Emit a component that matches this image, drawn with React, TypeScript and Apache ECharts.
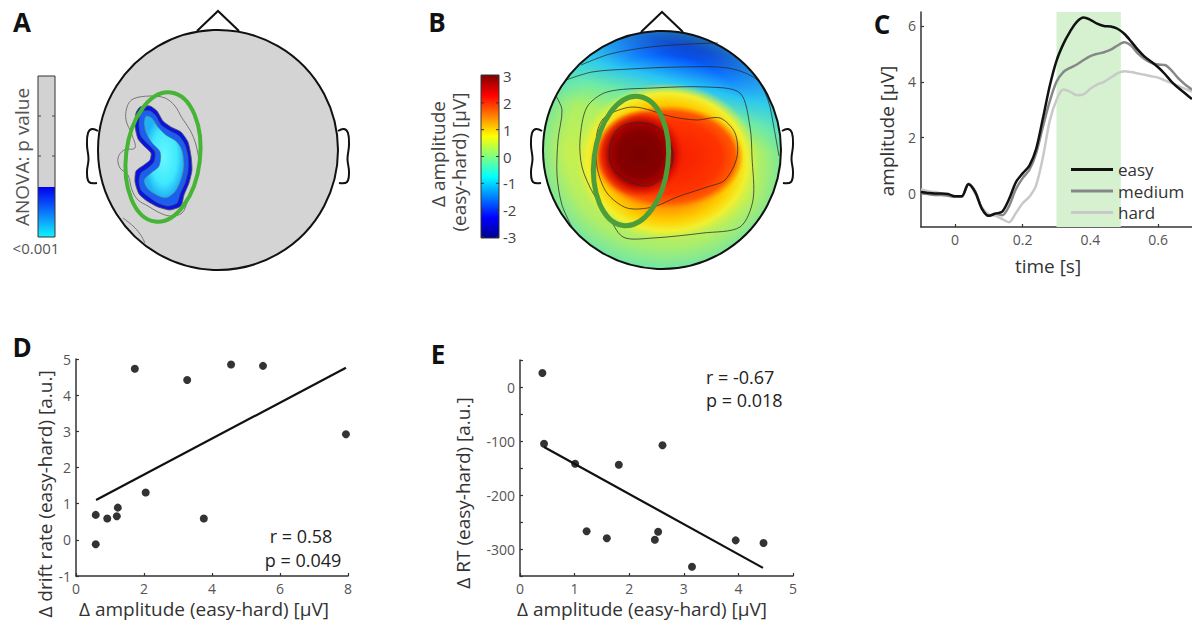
import React, { useEffect, useRef } from 'react';
import * as echarts from 'echarts';

const FONT = '"Open Sans", "Noto Sans", sans-serif';

// ---------- Panel C: ERP time courses ----------
const timeS = [-0.1, -0.08, -0.06, -0.04, -0.02, 0, 0.02, 0.04, 0.06, 0.08, 0.1, 0.12, 0.14, 0.16, 0.18, 0.2, 0.22, 0.24, 0.26, 0.28, 0.3, 0.32, 0.34, 0.36, 0.38, 0.4, 0.42, 0.44, 0.46, 0.48, 0.5, 0.52, 0.54, 0.56, 0.58, 0.6, 0.62, 0.64, 0.66, 0.68, 0.7];
const easyUV = [0.05, 0.02, 0.0, 0.0, -0.02, -0.1, -0.1, 0.33, 0.05, -0.55, -0.8, -0.72, -0.65, -0.2, 0.4, 0.72, 1.0, 1.6, 2.7, 3.85, 4.75, 5.35, 5.8, 6.15, 6.3, 6.22, 6.08, 6.0, 5.98, 5.9, 5.72, 5.45, 5.15, 4.9, 4.72, 4.52, 4.28, 4.0, 3.78, 3.58, 3.38];
const mediumUV = [0.0, -0.02, -0.05, -0.05, -0.08, -0.12, -0.12, 0.35, 0.08, -0.55, -0.8, -0.72, -0.78, -0.45, 0.15, 0.55, 0.85, 1.45, 2.4, 3.3, 4.0, 4.35, 4.5, 4.62, 4.78, 4.92, 5.0, 5.06, 5.15, 5.3, 5.42, 5.3, 5.02, 4.82, 4.68, 4.62, 4.6, 4.4, 4.12, 3.9, 3.72];
const hardUV = [0.15, 0.08, 0.05, 0.0, -0.05, -0.1, -0.12, 0.33, 0.0, -0.5, -0.75, -0.8, -0.92, -1.03, -0.7, -0.35, -0.12, 0.3, 1.3, 2.6, 3.35, 3.72, 3.65, 3.52, 3.55, 3.75, 3.9, 4.0, 4.15, 4.3, 4.38, 4.35, 4.3, 4.25, 4.2, 4.15, 4.05, 3.95, 3.85, 3.75, 3.65];
const conditionNames = ['easy', 'medium', 'hard'];
const windowS = [0.3, 0.49];
const cXTicks = [0, 0.2, 0.4, 0.6];
const cYTicks = [0, 2, 4, 6];

// ---------- Panel D: drift rate vs amplitude ----------
const dAmp = [0.58, 0.58, 0.92, 1.2, 1.23, 1.73, 2.05, 3.27, 3.76, 4.56, 5.5, 7.94];
const dDrift = [0.69, -0.12, 0.59, 0.65, 0.89, 4.73, 1.31, 4.42, 0.59, 4.85, 4.81, 2.92];
const dFitX = [0.59, 7.94];
const dFitY = [1.1, 4.76];
const dStats = ['r = 0.58', 'p = 0.049'];

// ---------- Panel E: RT vs amplitude ----------
const eAmp = [0.41, 0.44, 1.01, 1.22, 1.59, 1.81, 2.47, 2.53, 2.61, 3.15, 3.95, 4.46];
const eRT = [26, -105, -142, -267, -280, -144, -283, -268, -108, -333, -284, -289];
const eFitX = [0.44, 4.45];
const eFitY = [-111, -335];
const eStats = ['r = -0.67', 'p = 0.018'];
const eYLabels = [0, -100, -200, -300];
const eYTicks = [50, 0, -50, -100, -150, -200, -250, -300, -350];

// ---------- Colorbars ----------
const bBarTicks = [3, 2, 1, 0, -1, -2, -3];
const aBarLabel = '<0.001';

function txt(text: string, x: number, y: number, o: any = {}) {
  const align = o.align || 'center';
  return {
    type: 'text',
    x,
    y,
    rotation: o.rot || 0,
    z: 20,
    style: {
      text,
      fontSize: o.size || 17,
      fontFamily: FONT,
      fontWeight: o.weight || 'normal',
      fill: o.fill || '#333',
      textAlign: align,
      align,
      textVerticalAlign: 'middle',
      verticalAlign: 'middle',
    },
  };
}

function headOutline(cx: number, cy: number, r: number) {
  const ear = [[-120, -19], [-126, -21], [-130, -17], [-131, -5], [-129.5, 9], [-131, 22], [-129, 32], [-121, 33]];
  const ln = { stroke: '#111', lineWidth: 2, fill: 'none' };
  return [
    { type: 'polyline', z: 10, shape: { points: [[cx - 21, cy - r + 1], [cx, cy - r - 19], [cx + 21, cy - r + 1]] }, style: ln },
    { type: 'polyline', z: 10, shape: { points: ear.map(([dx, dy]) => [cx + dx, cy + dy]), smooth: 0.4 }, style: ln },
    { type: 'polyline', z: 10, shape: { points: ear.map(([dx, dy]) => [cx - dx, cy + dy]), smooth: 0.4 }, style: ln },
    { type: 'circle', z: 10, shape: { cx, cy, r }, style: { fill: 'none', stroke: '#111', lineWidth: 2 } },
  ];
}

function radial(stops: [number, string][]) {
  return { type: 'radial', x: 0.5, y: 0.5, r: 0.5, colorStops: stops.map(([offset, color]) => ({ offset, color })) };
}

function buildGraphics() {
  const g: any[] = [];
  // ---------- Panel A ----------
  g.push({ type: 'circle', z: 5, shape: { cx: 218, cy: 150, r: 120 }, style: { fill: '#d4d4d4' } });
  g.push({
    type: 'polygon', z: 6,
    shape: { smooth: 0.2, points: [[140, 107], [150, 106], [157, 111], [163, 121], [171, 127], [181, 132], [188, 142], [191, 156], [192, 170], [189, 183], [184, 195], [181, 206], [170, 210], [158, 207], [147, 201], [139, 194], [135, 182], [136, 171], [144, 165], [150, 160], [151, 153], [144, 146], [138, 139], [135, 126], [136, 113]] },
    style: { fill: '#0a14e0', stroke: '#555', lineWidth: 0.8 },
  });
  g.push({
    type: 'polygon', z: 6,
    shape: { smooth: 0.25, points: [[143, 111], [150, 111], [156, 116], [161, 125], [170, 131], [179, 136], [185, 145], [188, 157], [188, 171], [185, 183], [180, 194], [177, 203], [168, 206], [158, 203], [149, 197], [141, 190], [139, 181], [141, 173], [148, 168], [154, 162], [155, 152], [148, 144], [141, 136], [139, 125], [140, 115]] },
    style: { fill: '#1a5ef2', stroke: '#555', lineWidth: 0.6 },
  });
  g.push({
    type: 'polygon', z: 6,
    shape: { smooth: 0.3, points: [[146, 116], [152, 118], [158, 127], [166, 135], [176, 141], [182, 150], [184, 166], [181, 180], [175, 192], [166, 198], [156, 195], [147, 188], [144, 180], [151, 173], [159, 166], [160, 152], [152, 143], [146, 133], [144, 123]] },
    style: { fill: radial([[0, '#66f8ff'], [0.65, '#40e8fc'], [1, '#20b0f6']]), stroke: '#666', lineWidth: 0.6 },
  });
  g.push({
    type: 'polygon', z: 6,
    shape: { smooth: 0.35, points: [[127, 107], [133, 99], [150, 96], [165, 98], [175, 106], [182, 118], [190, 130], [196, 145], [199, 165], [195, 185], [188, 200], [182, 213], [170, 216], [158, 212], [148, 206], [138, 200], [132, 190], [128, 175], [120, 168], [118, 158], [124, 150], [135, 148], [132, 135], [126, 120]] },
    style: { fill: 'none', stroke: '#777', lineWidth: 1 },
  });
  g.push({ type: 'polyline', z: 6, shape: { smooth: 0.4, points: [[123, 218], [133, 226], [140, 234], [145, 243]] }, style: { fill: 'none', stroke: '#777', lineWidth: 1 } });
  g.push({ type: 'ellipse', z: 8, x: 163, y: 157, rotation: -0.12, shape: { cx: 0, cy: 0, rx: 37, ry: 65 }, style: { fill: 'none', stroke: '#46b536', lineWidth: 4 } });
  g.push(...headOutline(218, 150, 120));
  // colorbar A
  g.push({ type: 'rect', z: 5, shape: { x: 38, y: 76, width: 17, height: 111 }, style: { fill: '#d2d2d2' } });
  g.push({
    type: 'rect', z: 5, shape: { x: 38, y: 187, width: 17, height: 50 },
    style: { fill: { type: 'linear', x: 0, y: 0, x2: 0, y2: 1, colorStops: [{ offset: 0, color: '#0000f0' }, { offset: 0.35, color: '#0a50f8' }, { offset: 1, color: '#10f4ff' }] } },
  });
  g.push({ type: 'rect', z: 6, shape: { x: 38, y: 76, width: 17, height: 161 }, style: { fill: 'none', stroke: '#333', lineWidth: 1 } });
  [116, 156].forEach((y) => {
    g.push({ type: 'line', z: 6, shape: { x1: 38, y1: y, x2: 41, y2: y }, style: { stroke: '#444', lineWidth: 1 } });
    g.push({ type: 'line', z: 6, shape: { x1: 52, y1: y, x2: 55, y2: y }, style: { stroke: '#444', lineWidth: 1 } });
  });
  g.push(txt('ANOVA: p value', 22, 157, { rot: Math.PI / 2, size: 19, fill: '#555' }));
  g.push(txt(aBarLabel, 36, 248, { size: 15, fill: '#555' }));

  // ---------- Panel B ----------
  g.push({
    type: 'circle', z: 5, shape: { cx: 662, cy: 150, r: 119 },
    style: {
      fill: {
        type: 'linear', x: 0.6, y: 0, x2: 0.35, y2: 1,
        colorStops: [
          { offset: 0, color: '#000a90' }, { offset: 0.06, color: '#0022d0' }, { offset: 0.13, color: '#0a6cff' },
          { offset: 0.21, color: '#28c4f4' }, { offset: 0.3, color: '#6eeaa6' }, { offset: 0.4, color: '#aef064' },
          { offset: 0.6, color: '#c6f050' }, { offset: 0.85, color: '#b0ee66' }, { offset: 1, color: '#96ee80' },
        ],
      },
    },
  });
  g.push({ type: 'circle', z: 5, shape: { cx: 662, cy: 150, r: 119 }, style: { fill: radial([[0, 'rgba(80,230,210,0)'], [0.8, 'rgba(80,230,210,0)'], [1, 'rgba(60,220,215,0.45)']]) } });
  g.push({ type: 'circle', z: 6, x: 667, y: 162, scaleY: 0.86, shape: { cx: 0, cy: 0, r: 92 }, style: { fill: radial([[0, '#ff5a00'], [0.5, '#ff7c00'], [0.74, '#ffcc00'], [0.87, '#f2f02e'], [1, 'rgba(215,240,70,0)']]) } });
  g.push({ type: 'circle', z: 6, x: 668, y: 157, scaleY: 0.68, shape: { cx: 0, cy: 0, r: 76 }, style: { fill: radial([[0, '#f41a00'], [0.7, '#ff3400'], [0.88, '#ff5a00'], [1, 'rgba(255,120,0,0)']]) } });
  g.push({ type: 'circle', z: 6, x: 640, y: 154, shape: { cx: 0, cy: 0, r: 44 }, style: { fill: radial([[0, '#7a0000'], [0.5, '#860000'], [0.7, '#a80000'], [0.86, 'rgba(215,10,0,0.6)'], [1, 'rgba(240,30,0,0)']]) } });
  const cs = { fill: 'none', stroke: 'rgba(40,40,40,0.75)', lineWidth: 1 };
  g.push({ type: 'polygon', z: 7, shape: { smooth: 0.35, points: [[610, 147], [617, 130], [633, 123], [653, 125], [667, 137], [673, 160], [663, 177], [647, 186], [627, 180], [612, 167]] }, style: cs });
  g.push({ type: 'polygon', z: 7, shape: { smooth: 0.3, points: [[597, 133], [605, 117], [633, 107], [673, 117], [697, 120], [720, 118], [735, 133], [737, 157], [725, 180], [707, 187], [677, 197], [653, 207], [627, 208], [607, 193], [597, 167]] }, style: cs });
  g.push({ type: 'polygon', z: 7, shape: { smooth: 0.3, points: [[580, 140], [587, 107], [607, 92], [653, 88], [707, 87], [740, 93], [750, 127], [752, 157], [753, 200], [740, 227], [703, 233], [653, 238], [623, 237], [607, 213], [593, 193], [582, 167]] }, style: cs });
  g.push({ type: 'polyline', z: 7, shape: { smooth: 0.3, points: [[566, 80], [592, 72], [630, 69], [680, 67], [728, 68], [756, 79], [768, 100], [774, 128], [779, 156]] }, style: cs });
  g.push({ type: 'polyline', z: 7, shape: { smooth: 0.3, points: [[556, 96], [562, 110], [558, 140], [557, 175], [562, 205], [573, 229]] }, style: cs });
  g.push({ type: 'polyline', z: 7, shape: { smooth: 0.3, points: [[581, 65], [610, 54], [650, 47], [690, 44], [718, 43]] }, style: cs });
  g.push({ type: 'ellipse', z: 8, x: 631, y: 161, rotation: -0.12, shape: { cx: 0, cy: 0, rx: 37, ry: 65 }, style: { fill: 'none', stroke: '#4c9e3a', lineWidth: 5 } });
  g.push(...headOutline(662, 150, 119));
  // colorbar B (jet)
  g.push({
    type: 'rect', z: 5, shape: { x: 481, y: 75, width: 18, height: 163 },
    style: {
      fill: {
        type: 'linear', x: 0, y: 0, x2: 0, y2: 1,
        colorStops: [
          { offset: 0, color: '#800000' }, { offset: 0.125, color: '#ff0000' }, { offset: 0.375, color: '#ffff00' },
          { offset: 0.5, color: '#80ff80' }, { offset: 0.625, color: '#00ffff' }, { offset: 0.875, color: '#0000ff' }, { offset: 1, color: '#00008f' },
        ],
      },
      stroke: '#333', lineWidth: 1,
    },
  });
  bBarTicks.forEach((v, i) => {
    const y = 76 + i * (161 / 6);
    g.push({ type: 'line', z: 6, shape: { x1: 496, y1: y, x2: 499, y2: y }, style: { stroke: '#333', lineWidth: 1 } });
    g.push({ type: 'line', z: 6, shape: { x1: 481, y1: y, x2: 484, y2: y }, style: { stroke: '#333', lineWidth: 1 } });
    g.push(txt(String(v), 503, y, { size: 15, align: 'left', fill: '#444' }));
  });
  g.push(txt('Δ amplitude', 438, 154, { rot: Math.PI / 2, size: 19, fill: '#444' }));
  g.push(txt('(easy-hard) [μV]', 459, 162, { rot: Math.PI / 2, size: 19, fill: '#444' }));

  // ---------- Panel labels ----------
  g.push(txt('A', 22, 22, { size: 26, weight: 'bold', fill: '#111' }));
  g.push(txt('B', 437, 22, { size: 26, weight: 'bold', fill: '#111' }));
  g.push(txt('C', 882, 24, { size: 26, weight: 'bold', fill: '#111' }));
  g.push(txt('D', 22, 347, { size: 26, weight: 'bold', fill: '#111' }));
  g.push(txt('E', 438, 354, { size: 26, weight: 'bold', fill: '#111' }));

  // ---------- Axis names ----------
  g.push(txt('amplitude [μV]', 887, 131, { rot: Math.PI / 2, size: 19 }));
  g.push(txt('time [s]', 1048, 266, { size: 19 }));
  g.push(txt('Δ drift rate (easy-hard) [a.u.]', 45, 494, { rot: Math.PI / 2, size: 19 }));
  g.push(txt('Δ amplitude (easy-hard) [μV]', 204, 609, { size: 19 }));
  g.push(txt('Δ RT (easy-hard) [a.u.]', 463, 493, { rot: Math.PI / 2, size: 19 }));
  g.push(txt('Δ amplitude (easy-hard) [μV]', 642, 609, { size: 19 }));

  // ---------- Stats ----------
  g.push(txt(dStats[0], 301, 536, { size: 18, fill: '#222' }));
  g.push(txt(dStats[1], 303, 560, { size: 18, fill: '#222' }));
  g.push(txt(eStats[0], 706, 377, { size: 18, align: 'left', fill: '#222' }));
  g.push(txt(eStats[1], 706, 400, { size: 18, align: 'left', fill: '#222' }));
  return g;
}

function axis(extra: any) {
  return {
    type: 'value',
    splitLine: { show: false },
    axisLine: { show: true, onZero: false, lineStyle: { color: '#333', width: 1.5 } },
    ...extra,
    axisTick: { show: true, inside: true, length: 3, lineStyle: { color: '#333', width: 1.2 }, ...(extra.axisTick || {}) },
    axisLabel: { color: '#555', fontSize: 14, fontFamily: FONT, margin: 5, ...(extra.axisLabel || {}) },
  };
}

export default function App() {
  const ref = useRef<HTMLDivElement>(null);
  useEffect(() => {
    if (!ref.current) return;
    const chart = echarts.init(ref.current, undefined, { renderer: 'svg' });
    const pairs = (xs: number[], ys: number[]) => xs.map((x, i) => [x, ys[i]]);
    chart.setOption({
      animation: false,
      backgroundColor: '#ffffff',
      grid: [
        { left: 921, right: 0, top: 12, bottom: 625 - 227 },
        { left: 76, right: 1192 - 348, top: 359, bottom: 625 - 576 },
        { left: 520, right: 1192 - 793, top: 360, bottom: 625 - 576 },
      ],
      xAxis: [
        axis({ gridIndex: 0, min: -0.1, max: 0.7, axisLabel: { customValues: cXTicks }, axisTick: { customValues: cXTicks } }),
        axis({ gridIndex: 1, min: 0, max: 8, interval: 2 }),
        axis({ gridIndex: 2, min: 0, max: 5, interval: 1 }),
      ],
      yAxis: [
        axis({ gridIndex: 0, min: -1.2, max: 6.5, axisLabel: { customValues: cYTicks }, axisTick: { customValues: cYTicks } }),
        axis({ gridIndex: 1, min: -1, max: 5, interval: 1 }),
        axis({ gridIndex: 2, min: -350, max: 50, interval: 50, axisLabel: { customValues: eYLabels }, axisTick: { customValues: eYTicks } }),
      ],
      legend: {
        data: conditionNames,
        orient: 'vertical',
        left: 1066,
        top: 155,
        icon: 'rect',
        itemWidth: 42,
        itemHeight: 3,
        itemGap: 2.5,
        textStyle: { fontSize: 17, fontFamily: FONT, color: '#333', lineHeight: 19 },
      },
      series: [
        {
          type: 'line', name: 'window', xAxisIndex: 0, yAxisIndex: 0, data: [], z: 1, silent: true,
          markArea: { silent: true, itemStyle: { color: '#d5f1d0' }, data: [[{ xAxis: windowS[0] }, { xAxis: windowS[1] }]] },
        },
        { type: 'line', name: conditionNames[2], xAxisIndex: 0, yAxisIndex: 0, data: pairs(timeS, hardUV), symbol: 'none', smooth: 0.3, z: 2, lineStyle: { color: '#c9c9c9', width: 2.5 }, itemStyle: { color: '#c9c9c9' } },
        { type: 'line', name: conditionNames[1], xAxisIndex: 0, yAxisIndex: 0, data: pairs(timeS, mediumUV), symbol: 'none', smooth: 0.3, z: 3, lineStyle: { color: '#878787', width: 2.5 }, itemStyle: { color: '#878787' } },
        { type: 'line', name: conditionNames[0], xAxisIndex: 0, yAxisIndex: 0, data: pairs(timeS, easyUV), symbol: 'none', smooth: 0.3, z: 4, lineStyle: { color: '#111111', width: 2.5 }, itemStyle: { color: '#111111' } },
        { type: 'scatter', xAxisIndex: 1, yAxisIndex: 1, data: pairs(dAmp, dDrift), symbolSize: 8, itemStyle: { color: '#000' } },
        { type: 'line', xAxisIndex: 1, yAxisIndex: 1, data: pairs(dFitX, dFitY), symbol: 'none', lineStyle: { color: '#111', width: 2.2 } },
        { type: 'scatter', xAxisIndex: 2, yAxisIndex: 2, data: pairs(eAmp, eRT), symbolSize: 8, itemStyle: { color: '#000' } },
        { type: 'line', xAxisIndex: 2, yAxisIndex: 2, data: pairs(eFitX, eFitY), symbol: 'none', lineStyle: { color: '#111', width: 2.2 } },
      ],
      graphic: { elements: buildGraphics() },
    });
    return () => chart.dispose();
  }, []);
  return <div ref={ref} style={{ position: 'fixed', left: 0, top: 0, width: 1192, height: 625 }} />;
}
